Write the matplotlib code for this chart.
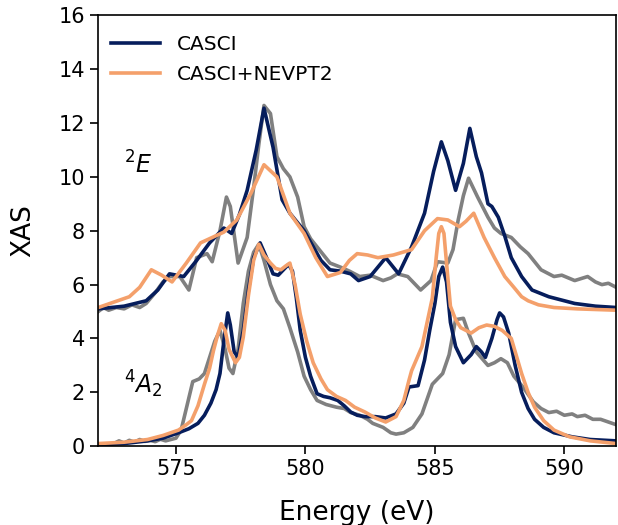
import matplotlib
matplotlib.use("Agg")
import matplotlib.pyplot as plt

# ---------------- data ----------------
# 4A2 experiment (gray)
exp_4a2_x = [572.0, 572.3, 572.6, 572.8, 573.0, 573.2, 573.4, 573.6, 573.8, 574.0, 574.2, 574.4, 574.6, 574.8,
             575.0, 575.2, 575.45, 575.65, 575.9, 576.1, 576.3, 576.5, 576.7, 576.9, 577.05, 577.2, 577.4,
             577.6, 577.8, 578.0, 578.2, 578.4, 578.65, 578.9, 579.15, 579.4, 579.7, 579.95, 580.2, 580.45,
             580.8, 581.0, 581.2, 581.5, 581.75, 582.1, 582.4, 582.6, 583.0, 583.3, 583.5, 583.8, 584.15,
             584.5, 584.9, 585.3, 585.55, 585.8, 586.1, 586.3, 586.6, 587.05, 587.3, 587.55, 587.8, 588.05,
             588.4, 588.8, 589.1, 589.4, 589.7, 590.0, 590.3, 590.5, 590.8, 591.1, 591.4, 591.7, 592.0]
exp_4a2_y = [0.0, 0.05, 0.1, 0.2, 0.12, 0.22, 0.15, 0.25, 0.18, 0.22, 0.17, 0.26, 0.2, 0.25,
             0.3, 0.6, 1.6, 2.4, 2.5, 2.7, 3.3, 3.9, 4.3, 3.6, 2.9, 2.7, 3.6,
             5.3, 6.5, 7.2, 7.5, 6.9, 6.0, 5.4, 5.1, 4.4, 3.5, 2.6, 2.1, 1.7,
             1.55, 1.5, 1.45, 1.4, 1.25, 1.15, 1.0, 0.85, 0.7, 0.5, 0.45, 0.5, 0.7,
             1.2, 2.3, 2.7, 3.4, 4.7, 4.75, 4.2, 3.5, 3.0, 3.1, 3.25, 3.1, 2.6,
             2.2, 1.65, 1.4, 1.25, 1.3, 1.15, 1.2, 1.1, 1.15, 1.0, 1.0, 0.9, 0.8]

# 4A2 CASCI (navy)
casci_4a2_x = [572.0, 573.0, 573.9, 574.5, 575.1, 575.5, 575.85, 576.1, 576.35, 576.55, 576.7, 576.85, 577.0,
               577.1, 577.25, 577.4, 577.6, 577.8, 578.0, 578.25, 578.5, 578.75, 578.95, 579.15, 579.35, 579.5,
               579.65, 579.8, 580.0, 580.2, 580.45, 580.7, 580.95, 581.25, 581.5, 581.75, 582.0, 582.3, 582.7,
               583.1, 583.5, 583.8, 584.0, 584.35, 584.6, 584.8, 585.0, 585.15, 585.3, 585.45, 585.6, 585.8,
               586.1, 586.4, 586.6, 586.8, 586.95, 587.2, 587.4, 587.5, 587.65, 587.85, 588.1, 588.35, 588.6,
               588.85, 589.2, 589.6, 590.3, 591.0, 592.0]
casci_4a2_y = [0.05, 0.1, 0.2, 0.3, 0.5, 0.65, 0.85, 1.15, 1.6, 2.1, 2.7, 3.9, 4.95,
               4.5, 3.5, 3.3, 4.3, 5.8, 7.0, 7.55, 7.0, 6.4, 6.35, 6.55, 6.75, 6.5,
               5.5, 4.3, 3.3, 2.6, 1.95, 1.85, 1.8, 1.7, 1.5, 1.27, 1.15, 1.1, 1.1,
               1.05, 1.2, 1.6, 2.2, 2.25, 3.2, 4.3, 5.3, 6.3, 6.65, 6.1, 4.6, 3.7,
               3.1, 3.4, 3.7, 3.5, 3.3, 4.0, 4.7, 4.95, 4.8, 4.2, 3.0, 2.0, 1.4,
               1.0, 0.7, 0.5, 0.35, 0.25, 0.2]

# 4A2 CASCI+NEVPT2 (orange)
nev_4a2_x = [572.0, 573.0, 573.9, 574.5, 575.1, 575.4, 575.6, 575.85, 576.1, 576.3, 576.45, 576.6, 576.75,
             576.9, 577.05, 577.3, 577.45, 577.6, 577.8, 578.0, 578.2, 578.4, 578.65, 578.85, 579.05, 579.25,
             579.4, 579.6, 579.8, 580.05, 580.3, 580.6, 580.85, 581.2, 581.55, 581.9, 582.3, 582.7, 583.1,
             583.5, 583.8, 584.0, 584.1, 584.5, 584.9, 585.05, 585.15, 585.25, 585.35, 585.45, 585.6, 585.8,
             586.0, 586.4, 586.7, 587.0, 587.3, 587.6, 587.95, 588.35, 588.6, 588.85, 589.2, 589.6, 590.2,
             591.0, 592.0]
nev_4a2_y = [0.1, 0.15, 0.25, 0.4, 0.6, 0.8, 0.95, 1.5, 2.3, 2.9, 3.55, 4.1, 4.55,
             4.3, 3.6, 3.1, 3.3, 4.05, 5.6, 6.9, 7.5, 7.1, 6.8, 6.6, 6.55, 6.7,
             6.8, 6.0, 4.9, 3.9, 3.1, 2.5, 2.1, 1.85, 1.7, 1.45, 1.27, 1.05, 0.9,
             1.1, 1.7, 2.45, 2.8, 3.7, 5.5, 7.0, 7.9, 8.15, 7.9, 6.8, 5.2, 4.7,
             4.4, 4.2, 4.4, 4.5, 4.45, 4.3, 4.0, 2.7, 2.0, 1.45, 0.95, 0.6, 0.35,
             0.2, 0.1]

# 2E experiment (gray)
exp_2e_x = [572.0, 572.2, 572.4, 572.7, 573.0, 573.3, 573.6, 573.85, 574.2, 574.5, 574.75, 575.15, 575.5,
            575.8, 576.2, 576.4, 576.7, 576.95, 577.1, 577.4, 577.75, 578.0, 578.2, 578.4, 578.65, 578.9,
            579.15, 579.4, 579.7, 579.95, 580.2, 580.45, 580.95, 581.35, 581.7, 582.1, 582.5, 583.0, 583.3,
            583.55, 583.95, 584.2, 584.45, 584.85, 585.1, 585.5, 585.7, 585.9, 586.1, 586.3, 586.65, 587.05,
            587.3, 587.55, 587.95, 588.3, 588.6, 589.1, 589.6, 589.9, 590.4, 590.9, 591.2, 591.45, 591.7, 592.0]
exp_2e_y = [5.0, 5.15, 5.05, 5.15, 5.1, 5.25, 5.15, 5.3, 5.7, 6.1, 6.3, 6.3, 5.8,
            7.0, 7.15, 6.85, 8.0, 9.25, 8.9, 6.8, 7.75, 9.6, 11.2, 12.65, 12.35, 10.75,
            10.3, 10.0, 9.25, 8.15, 7.7, 7.4, 6.8, 6.65, 6.5, 6.3, 6.35, 6.15, 6.25,
            6.4, 6.3, 6.05, 5.8, 6.15, 6.85, 6.8, 7.3, 8.4, 9.3, 9.95, 9.25, 8.5,
            8.1, 7.9, 7.75, 7.4, 7.15, 6.55, 6.3, 6.35, 6.15, 6.3, 6.1, 6.0, 6.05, 5.9]

# 2E CASCI (navy)
casci_2e_x = [572.0, 573.0, 573.85, 574.3, 574.75, 575.3, 575.8, 576.3, 576.85, 577.15, 577.45, 577.75, 578.1,
              578.4, 578.75, 579.1, 579.4, 579.95, 580.6, 580.95, 581.35, 581.75, 582.05, 582.5, 583.1, 583.6,
              584.1, 584.6, 584.95, 585.25, 585.5, 585.8, 586.1, 586.35, 586.6, 586.8, 587.05, 587.2, 587.45,
              587.7, 587.95, 588.35, 588.75, 589.4, 590.4, 591.2, 592.0]
casci_2e_y = [5.1, 5.2, 5.4, 5.8, 6.4, 6.3, 6.9, 7.55, 8.1, 7.9, 8.6, 9.5, 11.0,
              12.55, 11.1, 9.15, 8.65, 8.0, 6.9, 6.55, 6.5, 6.4, 6.15, 6.3, 7.0, 6.4,
              7.4, 8.65, 10.2, 11.3, 10.6, 9.5, 10.5, 11.8, 10.75, 10.15, 9.0, 8.9, 8.5,
              7.8, 7.0, 6.3, 5.8, 5.55, 5.3, 5.2, 5.15]

# 2E CASCI+NEVPT2 (orange)
nev_2e_x = [572.0, 572.6, 573.2, 573.6, 574.05, 574.45, 574.85, 575.4, 575.95, 576.4, 576.85, 577.35, 577.9,
            578.4, 578.9, 579.4, 579.95, 580.4, 580.85, 581.35, 581.7, 582.0, 582.4, 582.8, 583.4, 584.1,
            584.6, 585.1, 585.5, 585.95, 586.2, 586.5, 586.9, 587.3, 587.7, 588.05, 588.35, 588.6, 589.0,
            589.6, 590.5, 592.0]
nev_2e_y = [5.15, 5.35, 5.55, 5.9, 6.55, 6.35, 6.1, 6.8, 7.55, 7.75, 7.95, 8.4, 9.4,
            10.45, 10.0, 8.65, 7.9, 7.0, 6.3, 6.45, 6.9, 7.15, 7.1, 7.0, 7.1, 7.3,
            8.0, 8.45, 8.4, 8.15, 8.35, 8.65, 7.75, 7.0, 6.3, 5.9, 5.55, 5.4, 5.25,
            5.15, 5.1, 5.05]

legend_labels = ["CASCI", "CASCI+NEVPT2"]
state_labels = ["$^2E$", "$^4A_2$"]
x_ticks = [575, 580, 585, 590]
y_ticks = [0, 2, 4, 6, 8, 10, 12, 14, 16]

# ---------------- plot ----------------
navy = "#061d5c"
orange = "#f4a06b"
gray = "#808080"

fig = plt.figure(figsize=(6.18, 5.25), dpi=100)
ax = fig.add_axes([0.159, 0.150, 0.838, 0.821])

lw = 2.6
ax.plot(exp_4a2_x, exp_4a2_y, color=gray, lw=lw)
ax.plot(exp_2e_x, exp_2e_y, color=gray, lw=lw)
l1, = ax.plot(casci_4a2_x, casci_4a2_y, color=navy, lw=lw)
ax.plot(casci_2e_x, casci_2e_y, color=navy, lw=lw)
l2, = ax.plot(nev_4a2_x, nev_4a2_y, color=orange, lw=lw)
ax.plot(nev_2e_x, nev_2e_y, color=orange, lw=lw)

ax.text(573.0, 10.13, state_labels[0], fontsize=17, ha="left", va="baseline")
ax.text(573.0, 1.97, state_labels[1], fontsize=17, ha="left", va="baseline")

ax.legend([l1, l2], legend_labels, loc="upper left", bbox_to_anchor=(0.0, 0.984),
          frameon=False, fontsize=14.5,
          handlelength=2.4, handletextpad=0.85, labelspacing=0.55,
          borderaxespad=0.25, borderpad=0.4)

ax.set_xlim(572, 592)
ax.set_ylim(0, 16)
ax.set_xticks(x_ticks)
ax.set_yticks(y_ticks)
ax.tick_params(labelsize=15, length=6, width=1.2)
for s in ax.spines.values():
    s.set_linewidth(1.2)
ax.set_xlabel("Energy (eV)", fontsize=19, labelpad=15)
ax.set_ylabel("XAS", fontsize=19, labelpad=16)

fig.savefig("out.png", dpi=100)
